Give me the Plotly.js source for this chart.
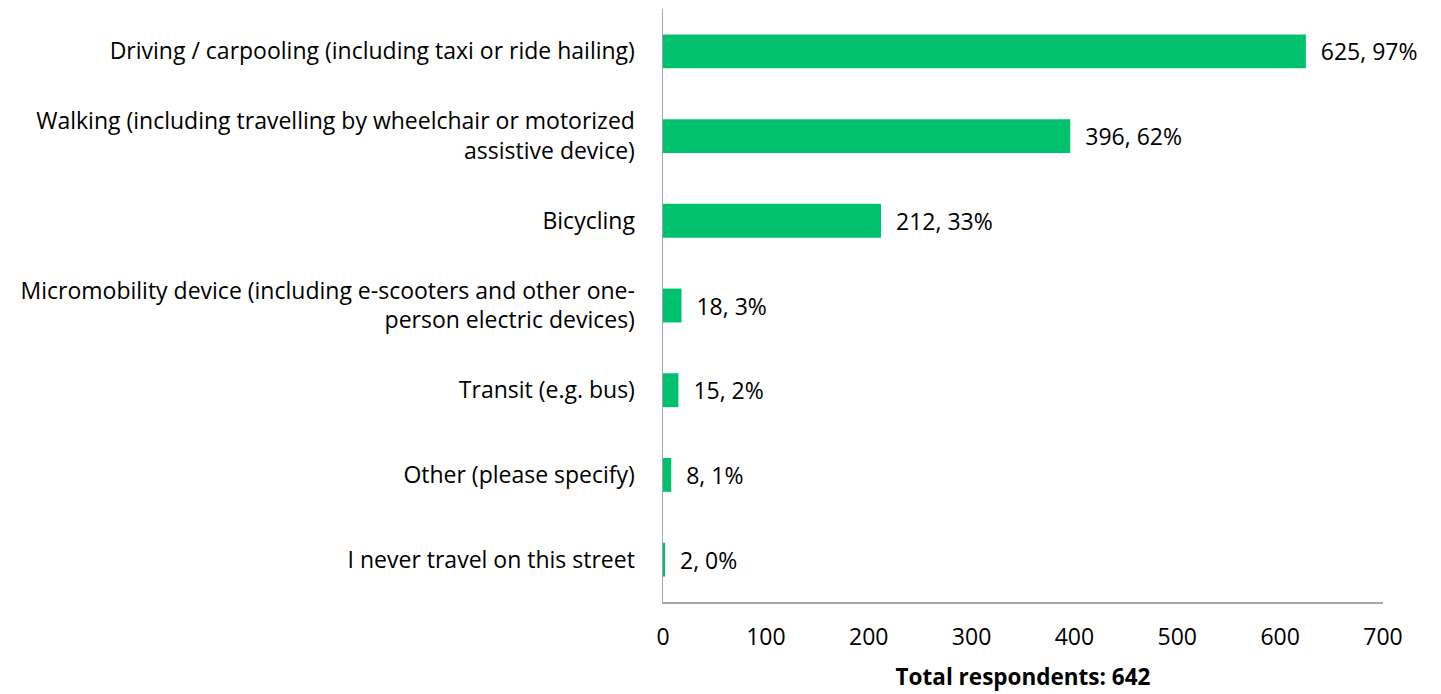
<!DOCTYPE html>
<html>
<head>
<meta charset="utf-8">
<script src="https://cdn.plot.ly/plotly-3.0.1.min.js"></script>
<style>html,body{margin:0;padding:0;background:#fff;}#chart{width:1441px;height:694px;}</style>
</head>
<body>
<div id="chart"></div>
<script>
var categories = [
  "Driving / carpooling (including taxi or ride hailing)",
  "Walking (including travelling by wheelchair or motorized<br>assistive device)",
  "Bicycling",
  "Micromobility device (including e-scooters and other one-<br>person electric devices)",
  "Transit (e.g. bus)",
  "Other (please specify)",
  "I never travel on this street"
];
var counts = [625, 396, 212, 18, 15, 8, 2];
var percents = [97, 62, 33, 3, 2, 1, 0];
var xTicks = [0, 100, 200, 300, 400, 500, 600, 700];
var totalRespondents = 642;

var labels = counts.map(function(c, i){ return "\u00a0\u00a0" + c + ", " + percents[i] + "%"; });

var font = "'Open Sans', 'Liberation Sans', Arial, sans-serif";

var trace = {
  type: "bar",
  orientation: "h",
  y: categories,
  x: counts,
  text: labels,
  textposition: "outside",
  cliponaxis: false,
  textfont: {family: font, size: 23, color: "#000"},
  marker: {color: "#00C16E"},
  hoverinfo: "none"
};

var layout = {
  width: 1441,
  height: 694,
  margin: {l: 663, r: 58, t: 9, b: 92},
  paper_bgcolor: "#fff",
  plot_bgcolor: "#fff",
  bargap: 0.6,
  showlegend: false,
  font: {family: font, size: 23, color: "#000"},
  xaxis: {
    range: [0, 700],
    tickvals: xTicks,
    ticktext: xTicks.map(String),
    showgrid: false,
    zeroline: false,
    showline: true,
    linecolor: "#a6a6a6",
    linewidth: 1.5,
    ticks: "outside",
    ticklen: 14,
    tickcolor: "rgba(0,0,0,0)",
    tickfont: {family: font, size: 23, color: "#000"},
    title: {text: "<b>Total respondents: " + totalRespondents + "</b>", font: {family: font, size: 22.5, color: "#000"}, standoff: 18}
  },
  yaxis: {
    autorange: "reversed",
    showgrid: false,
    zeroline: false,
    showline: true,
    linecolor: "#a6a6a6",
    linewidth: 1.5,
    ticks: "outside",
    ticklen: 22,
    tickcolor: "rgba(0,0,0,0)",
    tickfont: {family: font, size: 23, color: "#000"}
  }
};

Plotly.newPlot("chart", [trace], layout, {displayModeBar: false, staticPlot: true});
</script>
</body>
</html>
